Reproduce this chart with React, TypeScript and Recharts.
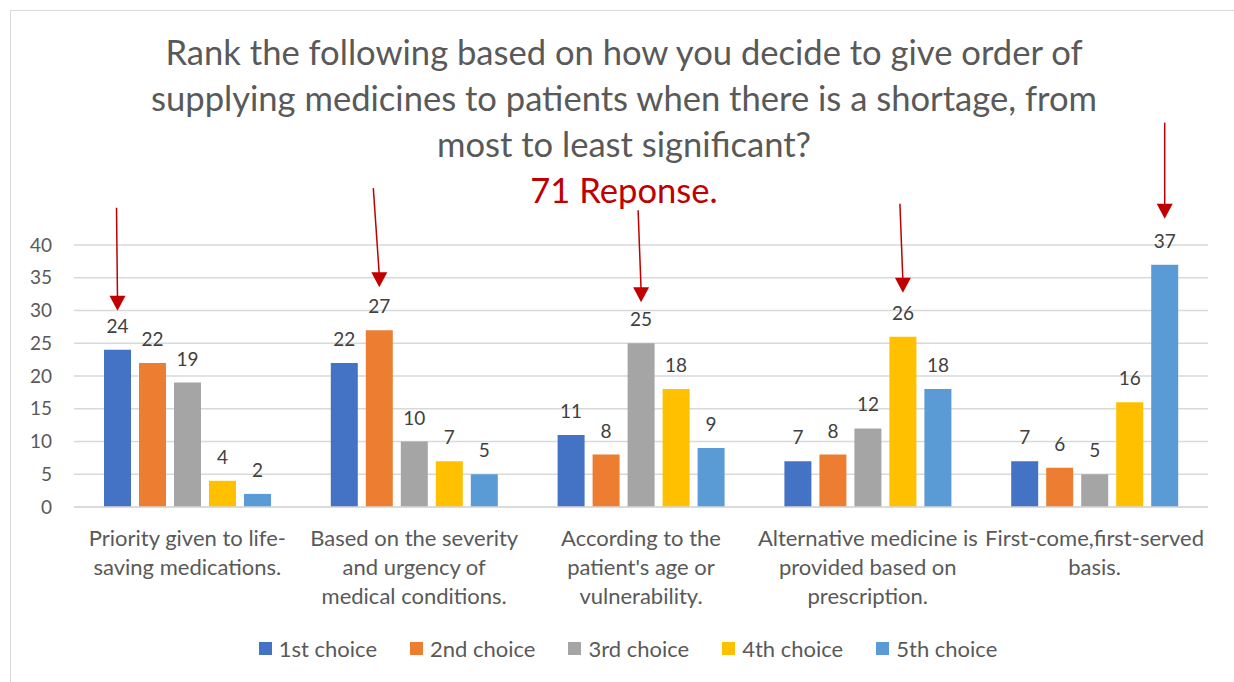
import React from 'react'
import {
	BarChart,
	Bar,
	XAxis,
	YAxis,
	CartesianGrid,
	Legend,
	LabelList,
} from 'recharts'

const CATEGORIES = [
	'Priority given to life-saving medications.',
	'Based on the severity and urgency of medical conditions.',
	"According to the patient's age or vulnerability.",
	'Alternative medicine is provided based on prescription.',
	'First-come,first-served basis.',
]

// wrapped the way the original axis shows them
const CATEGORY_LINES = [
	['Priority given to life-', 'saving medications.'],
	['Based on the severity', 'and urgency of', 'medical conditions.'],
	['According to the', "patient's age or", 'vulnerability.'],
	['Alternative medicine is', 'provided based on', 'prescription.'],
	['First-come,first-served', 'basis.'],
]

const SERIES_NAMES = ['1st choice', '2nd choice', '3rd choice', '4th choice', '5th choice']
const FIRST = [24, 22, 11, 7, 7]
const SECOND = [22, 27, 8, 8, 6]
const THIRD = [19, 10, 25, 12, 5]
const FOURTH = [4, 7, 18, 26, 16]
const FIFTH = [2, 5, 9, 18, 37]

// which choice the red arrow points at, per category
const ARROW_SERIES = [0, 1, 2, 3, 4]

const Y_TICKS = [0, 5, 10, 15, 20, 25, 30, 35, 40]

const COLORS = ['#4472C4', '#ED7D31', '#A5A5A5', '#FFC000', '#5B9BD5']
const FONT = 'Lato, "Open Sans", sans-serif'
const RED = '#C00000'

// arrow gap above bar, shaft length and lean of its tail, per category
const ARROW_GAP = [39, 43, 41, 44, 46]
const ARROW_LEN = [103, 99, 92, 89, 96]
const ARROW_LEAN = [-1, -6, -3, -3, 0]

const seriesValues = [FIRST, SECOND, THIRD, FOURTH, FIFTH]
const data = CATEGORIES.map((name, i) => {
	const row: Record<string, string | number> = { name }
	SERIES_NAMES.forEach((s, k) => {
		row[s] = seriesValues[k][i]
	})
	return row
})

function CategoryTick(props: any) {
	const { x, y, index } = props
	const lines = CATEGORY_LINES[index] || []
	return (
		<text
			x={x}
			y={y}
			textAnchor='middle'
			fill='#595959'
			fontSize={22}
			fontFamily={FONT}
		>
			{lines.map((l, i) => (
				<tspan key={i} x={x} dy={i === 0 ? 31 : 29}>
					{l}
				</tspan>
			))}
		</text>
	)
}

function makeLabel(seriesIdx: number) {
	return function BarLabel(props: any) {
		const { x, y, width, value, index } = props
		const cx = x + width / 2
		const top = y
		const arrow = ARROW_SERIES[index] === seriesIdx
		const tip = top - ARROW_GAP[index]
		return (
			<g>
				<text
					x={cx}
					y={top - 17}
					textAnchor='middle'
					fill='#404040'
					fontSize={19}
					fontFamily={FONT}
				>
					{value}
				</text>
				{arrow && (
					<g>
						<line
							x1={cx + ARROW_LEAN[index]}
							y1={tip - ARROW_LEN[index]}
							x2={cx}
							y2={tip - 12}
							stroke={RED}
							strokeWidth={1.5}
						/>
						<polygon
							points={`${cx - 8},${tip - 15} ${cx + 8},${tip - 15} ${cx},${tip}`}
							fill={RED}
						/>
					</g>
				)}
			</g>
		)
	}
}

function LegendContent() {
	return (
		<div
			style={{
				display: 'flex',
				justifyContent: 'center',
				gap: 33,
				fontFamily: FONT,
				fontSize: 22,
				color: '#595959',
				marginLeft: 22,
			}}
		>
			{SERIES_NAMES.map((s, i) => (
				<div key={s} style={{ display: 'flex', alignItems: 'center', gap: 7 }}>
					<div style={{ width: 13, height: 13, background: COLORS[i] }} />
					<span>{s}</span>
				</div>
			))}
		</div>
	)
}

export default function App() {
	return (
		<div
			style={{
				position: 'fixed',
				left: 0,
				top: 0,
				width: 1234,
				height: 682,
				overflow: 'hidden',
				background: '#fff',
			}}
		>
			{/* chart frame, runs off the right and bottom edge */}
			<div
				style={{
					position: 'absolute',
					left: 10,
					top: 10,
					width: 1240,
					height: 700,
					border: '1px solid #d9d9d9',
				}}
			/>

			{/* Title */}
			<div
				style={{
					position: 'absolute',
					left: 0,
					top: 29,
					width: 1248,
					textAlign: 'center',
					fontFamily: FONT,
					fontSize: 34.6,
					lineHeight: '46px',
					color: '#595959',
				}}
			>
				Rank the following based on how you decide to give order of
				<br />
				supplying medicines to patients when there is a shortage, from
				<br />
				most to least significant?
				<div style={{ color: RED }}>71 Reponse.</div>
			</div>

			<div style={{ position: 'absolute', left: 0, top: 0 }}>
				<BarChart
					width={1234}
					height={682}
					data={data}
					margin={{ top: 245, right: 26, left: 14, bottom: 55 }}
					barSize={27}
					barGap={8}
				>
					<CartesianGrid vertical={false} stroke='#d9d9d9' strokeWidth={1.5} />
					<XAxis
						dataKey='name'
						height={120}
						interval={0}
						tickLine={false}
						axisLine={{ stroke: '#d9d9d9', strokeWidth: 1.5 }}
						tick={<CategoryTick />}
					/>
					<YAxis
						width={60}
						domain={[0, 40]}
						ticks={Y_TICKS}
						axisLine={false}
						tickLine={false}
						tickMargin={16}
						tick={{ fontSize: 19, fill: '#595959', fontFamily: FONT }}
					/>
					<Legend
						layout='horizontal'
						verticalAlign='middle'
						align='center'
						wrapperStyle={{ top: 635, left: 0, width: 1234 }}
						content={<LegendContent />}
					/>
					{SERIES_NAMES.map((s, i) => (
						<Bar
							key={s}
							dataKey={s}
							fill={COLORS[i]}
							isAnimationActive={false}
						>
							<LabelList dataKey={s} content={makeLabel(i)} />
						</Bar>
					))}
				</BarChart>
			</div>
		</div>
	)
}
